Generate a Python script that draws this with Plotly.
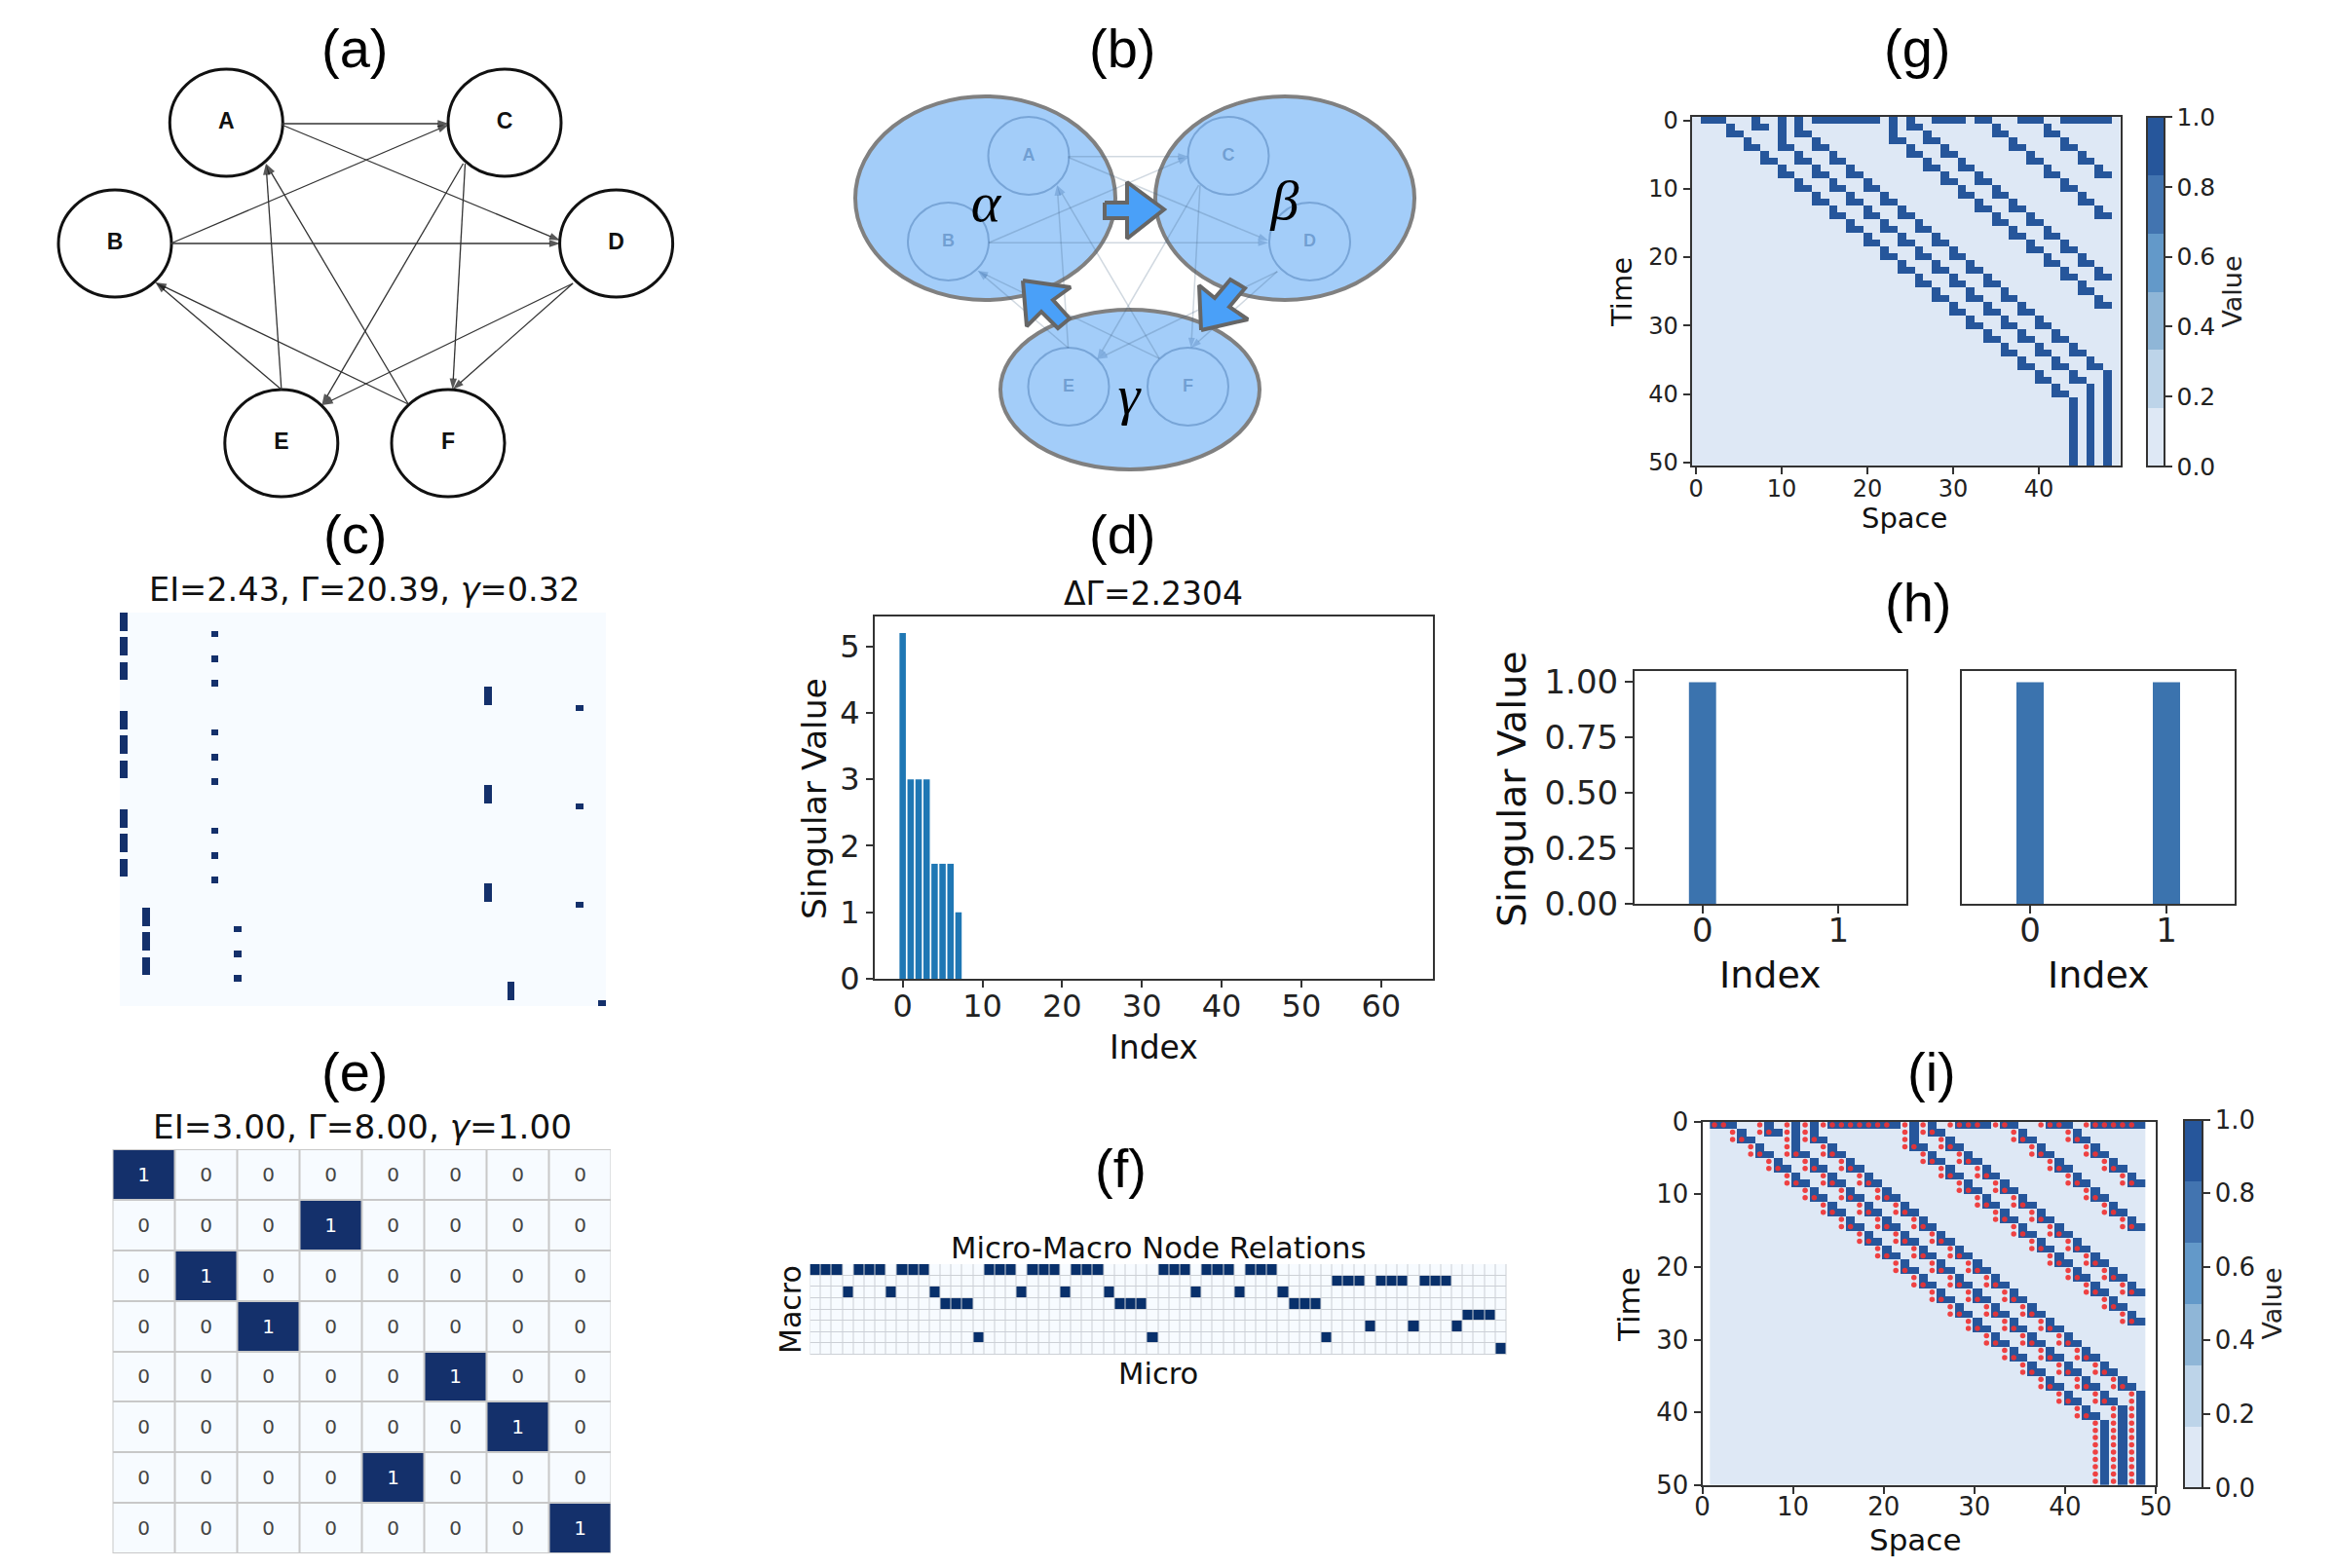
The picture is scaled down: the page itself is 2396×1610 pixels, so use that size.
import plotly.graph_objects as go

W, H = 2396, 1610

# ---------- panel a / b : graph ----------
node_names = ["A", "C", "B", "D", "E", "F"]
node_x = [232.3, 518, 118, 632.6, 288.8, 460]
node_y = [126, 126, 250, 250, 455, 455]
edge_x0 = [288.9, 288.9, 175.3, 175.3, 475.5, 477.5, 588.1, 588.1, 288.9, 288.9, 419.2, 419.2]
edge_y0 = [127, 128, 250, 250, 168, 168, 291, 291, 400, 400, 415, 415]
edge_x1 = [460.7, 575.3, 460.7, 575.3, 330.4, 464.7, 330.4, 464.7, 273, 159.5, 273, 159.5]
edge_y1 = [127, 247, 128, 250, 416, 400, 416, 400, 168, 290, 168, 290]

b_node_x = [1056, 1261, 973.5, 1344.5, 1097, 1219.5]
b_node_y = [160, 160, 248, 248, 397, 397]
group_names = ["<i>α</i>", "<i>β</i>", "<i>γ</i>"]
group_x = [1012, 1319, 1159]
group_y = [212, 210, 410]
group_x0 = [878, 1186, 1027]
group_x1 = [1145, 1452, 1293]
group_y0 = [99, 99, 318]
group_y1 = [308, 308, 482]
flow_arrow_x = [
    [1134, 1157, 1157, 1195, 1157, 1157, 1134, 1134],
    [1233, 1231, 1247, 1263, 1278, 1262, 1281, 1233],
    [1050, 1099, 1081, 1098, 1086, 1069, 1054, 1050],
]
flow_arrow_y = [
    [208, 208, 187, 215, 245, 224, 224, 208],
    [339, 293, 306, 287, 296, 315, 328, 339],
    [288, 295, 308, 327, 337, 320, 335, 288],
]

# ---------- panel c ----------
c_active_col = [0, 0, 0, 12, 0, 0, 0, 12, 0, 0, 0, 12, 48, 48, 48, 60,
                0, 0, 0, 12, 0, 0, 0, 12, 0, 0, 0, 12, 48, 48, 48, 60,
                0, 0, 0, 12, 0, 0, 0, 12, 0, 0, 0, 12, 48, 48, 48, 60,
                3, 3, 3, 15, 3, 3, 3, 15, 3, 3, 3, 15, 51, 51, 51, 63]

# ---------- panel d ----------
d_values = [5.2, 3.0, 3.0, 3.0, 1.73, 1.73, 1.73, 1.0] + [0.0] * 56
d_index = list(range(64))

# ---------- panel e ----------
e_active_col = [0, 3, 1, 2, 5, 6, 4, 7]

# ---------- panel f ----------
f_macro_of_micro = [0, 0, 0, 2, 0, 0, 0, 2, 0, 0, 0, 2, 3, 3, 3, 6,
                    0, 0, 0, 2, 0, 0, 0, 2, 0, 0, 0, 2, 3, 3, 3, 6,
                    0, 0, 0, 2, 0, 0, 0, 2, 0, 0, 0, 2, 3, 3, 3, 6,
                    1, 1, 1, 5, 1, 1, 1, 5, 1, 1, 1, 5, 4, 4, 4, 7]

# ---------- panels g / i : space-time ----------
top_row_cols = [1, 2, 3, 7, 10, 12, 14, 15, 16, 17, 18, 19, 20, 21, 23, 25, 28, 29, 30, 31,
                33, 34, 38, 39, 40, 43, 44, 45, 46, 47, 48]
stem_cols = [10, 10, 12, 23, 23]
stem_rows = [1, 2, 1, 1, 2]
hold_cols = [44, 46, 48]
hold_first_row = [41, 39, 37]
stair_cols = [
    [7],
    [4, 6, 8, 10, 12, 14, 16, 18, 20, 22, 24, 26, 28, 30, 32, 34, 36, 38, 40, 42],
    [10, 12, 14, 16, 18, 20, 22, 24, 26, 28, 30, 32, 34, 36, 38, 40, 42, 44],
    [12, 14, 16, 18, 20, 22, 24, 26, 28, 30, 32, 34, 36, 38, 40, 42, 44, 46],
    [23, 25, 27, 29, 31, 33, 35, 37, 39, 41, 43, 45, 47],
    [25, 27, 29, 31, 33, 35, 37, 39, 41, 43, 45, 47],
    [35, 37, 39, 41, 43, 45, 47],
    [41, 43, 45, 47],
]
stair_rows = [
    [1],
    [2, 4, 6, 8, 10, 12, 14, 16, 18, 20, 22, 24, 26, 28, 30, 32, 34, 36, 38, 40],
    [4, 6, 8, 10, 12, 14, 16, 18, 20, 22, 24, 26, 28, 30, 32, 34, 36, 38],
    [2, 4, 6, 8, 10, 12, 14, 16, 18, 20, 22, 24, 26, 28, 30, 32, 34, 36],
    [3, 5, 7, 9, 11, 13, 15, 17, 19, 21, 23, 25, 27],
    [1, 3, 5, 7, 9, 11, 13, 15, 17, 19, 21, 23],
    [2, 4, 6, 8, 10, 12, 14],
    [2, 4, 6, 8],
]
g_x_ticks = [0, 10, 20, 30, 40]
g_y_ticks = [0, 10, 20, 30, 40, 50]
i_x_ticks = [0, 10, 20, 30, 40, 50]
cbar_ticks = [0.0, 0.2, 0.4, 0.6, 0.8, 1.0]
cbar_bands = ["#dee8f5", "#bdd4e9", "#8fb6d7", "#6399c9", "#4274b0", "#26569b"]

# ---------- panel h ----------
h_index = [0, 1]
h_left = [1.0, 0.0]
h_right = [1.0, 1.0]
h_y_ticks = [0, 0.25, 0.5, 0.75, 1.0]

panel_letters = ["(a)", "(b)", "(c)", "(d)", "(e)", "(f)", "(g)", "(h)", "(i)"]
panel_letter_x = [364, 1152, 364, 1152, 364, 1150, 1968, 1969, 1983]
panel_letter_y = [49, 49, 548, 548, 1100, 1199, 49, 619, 1100]

SANS = "DejaVu Sans"
ARIAL = "Liberation Sans"
DARK = "#222222"


def xd(a, b):
    return [a / W, b / W]


def yd(a, b):
    return [1 - b / H, 1 - a / H]


fig = go.Figure()
annots = []
shapes = []


def label(text, x, y, size, family=SANS, rot=0, color="#111111"):
    annots.append(dict(text=text, x=x / W, y=1 - y / H, xref="paper", yref="paper",
                       showarrow=False, xanchor="center", yanchor="middle", textangle=rot,
                       font=dict(size=size, family=family, color=color)))


def hidden_axes(n, x0, x1, y0, y1, xr=None, yr=None):
    fig.update_layout({
        f"xaxis{n}": dict(domain=xd(x0, x1), range=xr or [x0, x1], visible=False, anchor=f"y{n}", fixedrange=True),
        f"yaxis{n}": dict(domain=yd(y0, y1), range=yr or [y1, y0], visible=False, anchor=f"x{n}", fixedrange=True),
    })


def framed_axes(n, x0, x1, y0, y1, xr, yr, xt, yt, size, ylabels=True, yfmt=None, ticklen=7, xpull=0):
    common = dict(showline=True, mirror=True, linecolor="#333333", linewidth=2, ticks="outside",
                  ticklen=ticklen, tickwidth=1.5, tickcolor="#333333", showgrid=False, zeroline=False,
                  fixedrange=True, tickfont=dict(size=size, family=SANS, color=DARK))
    fig.update_layout({
        f"xaxis{n}": dict(domain=xd(x0, x1), range=xr, tickvals=xt, anchor=f"y{n}",
                          ticklabelstandoff=xpull, **common),
        f"yaxis{n}": dict(domain=yd(y0, y1), range=yr, tickvals=yt if ylabels else [], anchor=f"x{n}",
                          tickformat=yfmt, **common),
    })


def ellipse(n, x0, x1, y0, y1, fill, line, width):
    shapes.append(dict(type="circle", xref=f"x{n}", yref=f"y{n}", x0=x0, x1=x1, y0=y0, y1=y1,
                       fillcolor=fill, line=dict(color=line, width=width), layer="below"))


def edge(n, xs, ys, color, width, head, head_color):
    fig.add_trace(go.Scatter(x=xs, y=ys, xaxis=f"x{n}", yaxis=f"y{n}", mode="lines+markers",
                             line=dict(color=color, width=width),
                             marker=dict(symbol="arrow", angleref="previous", size=[0, head],
                                         color=head_color, line=dict(width=0)),
                             hoverinfo="skip"))


# ---- (a)
hidden_axes(1, 40, 720, 60, 520)
for x, y in zip(node_x, node_y):
    ellipse(1, x - 58, x + 58, y - 55, y + 55, "white", "#111111", 3)
for x0, y0, x1, y1 in zip(edge_x0, edge_y0, edge_x1, edge_y1):
    edge(1, [x0, x1], [y0, y1], "#333333", 1.3, 12, "#111111")
fig.add_trace(go.Scatter(x=node_x, y=node_y, text=node_names, mode="text", xaxis="x1", yaxis="y1",
                         textfont=dict(size=23, family=ARIAL, color="#111111", weight="bold"),
                         hoverinfo="skip"))

# ---- (b)
hidden_axes(2, 860, 1470, 90, 490)
for x0, x1, y0, y1 in zip(group_x0, group_x1, group_y0, group_y1):
    ellipse(2, x0, x1, y0, y1, "#a3cdf9", "#808080", 4)
for x, y in zip(b_node_x, b_node_y):
    ellipse(2, x - 41.5, x + 41.5, y - 40, y + 40, "rgba(0,0,0,0)", "rgba(50,100,160,0.38)", 2)
for x0, y0, x1, y1 in zip(edge_x0, edge_y0, edge_x1, edge_y1):
    bx = [1056 + (v - 232.3) * 0.7175 for v in (x0, x1)]
    by = [160 + (v - 126) * 0.72 for v in (y0, y1)]
    edge(2, bx, by, "rgba(60,90,125,0.24)", 1.5, 11, "rgba(60,110,170,0.45)")
fig.add_trace(go.Scatter(x=b_node_x, y=b_node_y, text=node_names, mode="text", xaxis="x2", yaxis="y2",
                         textfont=dict(size=18, family=ARIAL, color="rgba(50,100,160,0.45)", weight="bold"),
                         hoverinfo="skip"))
for xs, ys in zip(flow_arrow_x, flow_arrow_y):
    fig.add_trace(go.Scatter(x=xs, y=ys, xaxis="x2", yaxis="y2", mode="lines", fill="toself",
                             fillcolor="#4aa0f8", line=dict(color="#666666", width=4),
                             hoverinfo="skip"))
fig.add_trace(go.Scatter(x=group_x, y=group_y, text=group_names, mode="text", xaxis="x2", yaxis="y2",
                         textfont=dict(size=58, family="Liberation Serif", color="#000000"),
                         hoverinfo="skip"))

# ---- (c)
hidden_axes(3, 123, 622, 629, 1033, xr=[-0.5, 63.5], yr=[63.5, -0.5])
c_z = [[1 if j == col else 0 for j in range(64)] for col in c_active_col]
fig.add_trace(go.Heatmap(z=c_z, xaxis="x3", yaxis="y3", zmin=0, zmax=1, showscale=False,
                         colorscale=[[0, "#f7fbff"], [1, "#14306b"]], hoverinfo="skip"))

# ---- (d)
framed_axes(4, 898, 1471, 633, 1005, [-3.5, 66.5], [0, 5.45],
            [0, 10, 20, 30, 40, 50, 60], [0, 1, 2, 3, 4, 5], 32, xpull=-8)
fig.add_trace(go.Bar(x=d_index, y=d_values, width=0.8, xaxis="x4", yaxis="y4",
                     marker=dict(color="#1f77b4", line=dict(width=0)), hoverinfo="skip"))

# ---- (e)
hidden_axes(5, 115.5, 627, 1180, 1595, xr=[-0.5, 7.5], yr=[7.5, -0.5])
e_z = [[1 if j == col else 0 for j in range(8)] for col in e_active_col]
shapes.append(dict(type="rect", xref="x5 domain", yref="y5 domain", x0=0, x1=1, y0=0, y1=1,
                   fillcolor="#c8c8c8", line=dict(width=0), layer="below"))
fig.add_trace(go.Heatmap(z=e_z, xaxis="x5", yaxis="y5", zmin=0, zmax=1, showscale=False, xgap=2, ygap=2,
                         colorscale=[[0, "#f7fbff"], [1, "#14306b"]], texttemplate="%{z}",
                         textfont=dict(size=20, family=SANS), hoverinfo="skip"))

# ---- (f)
hidden_axes(6, 831.5, 1546.5, 1298, 1391, xr=[-0.5, 63.5], yr=[7.5, -0.5])
f_z = [[1 if m == r else 0 for m in f_macro_of_micro] for r in range(8)]
shapes.append(dict(type="rect", xref="x6 domain", yref="y6 domain", x0=0, x1=1, y0=0, y1=1,
                   fillcolor="#ccd0d6", line=dict(width=0), layer="below"))
fig.add_trace(go.Heatmap(z=f_z, xaxis="x6", yaxis="y6", zmin=0, zmax=1, showscale=False, xgap=1, ygap=1,
                         colorscale=[[0, "#f7fbff"], [1, "#08306b"]], hoverinfo="skip"))

# ---- (g) and (i)
active = set((c, 0) for c in top_row_cols)
active |= set(zip(stem_cols, stem_rows))
for cols, rows in zip(stair_cols, stair_rows):
    for c, f in zip(cols, rows):
        active |= {(c, f - 1), (c, f), (c + 1, f)}
for c, first in zip(hold_cols, hold_first_row):
    active |= {(c, r) for r in range(first, 51)}

stops = []
for k, col in enumerate(cbar_bands):
    stops += [[k / 6, col], [(k + 1) / 6, col]]


def cbar(x0, y0, y1, thick, size):
    return dict(x=x0 / W, xanchor="left", xpad=0, y=1 - y0 / H, yanchor="top", ypad=0,
                len=y1 - y0, lenmode="pixels", thickness=thick, thicknessmode="pixels",
                tickvals=cbar_ticks, tickformat=".1f", ticks="outside", ticklen=7, tickwidth=1.5,
                tickcolor="#333333", outlinecolor="#333333", outlinewidth=2,
                tickfont=dict(size=size, family=SANS, color=DARK),
                title=dict(text="Value", side="right", font=dict(size=27, family=SANS, color=DARK)))


framed_axes(7, 1736.7, 2176.7, 120, 478.3, [-0.5, 49.5], [50.5, -0.5], g_x_ticks, g_y_ticks, 24, xpull=-6)
g_z = [[1 if (c, r) in active else 0 for c in range(50)] for r in range(51)]
fig.add_trace(go.Heatmap(z=g_z, x=list(range(50)), y=list(range(51)), xaxis="x7", yaxis="y7",
                         zmin=0, zmax=1, colorscale=stops, colorbar=cbar(2204.3, 120, 479, 18, 25),
                         hoverinfo="skip"))

framed_axes(10, 1747.5, 2213, 1151.7, 1525, [0, 50], [50, 0], i_x_ticks, g_y_ticks, 26, xpull=-9)
i_cols = list(range(1, 49))
i_rows = list(range(50))
i_z = [[1 if (c, r) in active else 0 for c in i_cols] for r in i_rows]
fig.add_trace(go.Heatmap(z=i_z, x=[c + 0.34 for c in i_cols], y=[r + 0.5 for r in i_rows],
                         xaxis="x10", yaxis="y10", zmin=0, zmax=1, colorscale=stops,
                         colorbar=cbar(2242.3, 1149.5, 1527, 19, 26), hoverinfo="skip"))
dots = sorted(p for p in active if p[0] >= 2 and p[1] < 50)
fig.add_trace(go.Scatter(x=[c - 0.66 for c, r in dots], y=[r + 0.45 for c, r in dots],
                         xaxis="x10", yaxis="y10", mode="markers",
                         marker=dict(size=5.5, color="rgba(240,50,50,0.92)", line=dict(width=0)),
                         hoverinfo="skip"))

# ---- (h)
framed_axes(8, 1678, 1957, 689, 928.3, [-0.5, 1.5], [0, 1.05], h_index, h_y_ticks, 34, yfmt=".2f", ticklen=8, xpull=-12)
framed_axes(9, 2014, 2294, 689, 928.3, [-0.5, 1.5], [0, 1.05], h_index, h_y_ticks, 34, ylabels=False, ticklen=8, xpull=-12)
fig.add_trace(go.Bar(x=h_index, y=h_left, width=0.2, xaxis="x8", yaxis="y8",
                     marker=dict(color="#3b73ae", line=dict(width=0)), hoverinfo="skip"))
fig.add_trace(go.Bar(x=h_index, y=h_right, width=0.2, xaxis="x9", yaxis="y9",
                     marker=dict(color="#3b73ae", line=dict(width=0)), hoverinfo="skip"))

# ---- texts
for t, x, y in zip(panel_letters, panel_letter_x, panel_letter_y):
    label(t, x, y, 56, family=ARIAL, color="#000000")
label("EI=2.43, Γ=20.39, <i>γ</i>=0.32", 374, 605, 33.6)
label("EI=3.00, Γ=8.00, <i>γ</i>=1.00", 372, 1157, 34.3)
label("ΔΓ=2.2304", 1184, 609, 33)
label("Index", 1184, 1075, 33)
label("Singular Value", 836, 820, 34.5, rot=-90)
label("Micro-Macro Node Relations", 1189, 1281, 30.6)
label("Micro", 1189, 1410, 30.6)
label("Macro", 811, 1345, 30, rot=-90)
label("Time", 1665, 300, 29, rot=-90)
label("Space", 1955, 532, 29)
label("Singular Value", 1552, 810, 39.5, rot=-90)
label("Index", 1817, 1001, 38)
label("Index", 2154, 1001, 38)
label("Time", 1672, 1340, 31, rot=-90)
label("Space", 1966, 1581, 31)

fig.update_layout(width=W, height=H, margin=dict(l=0, r=0, t=0, b=0, pad=0, autoexpand=False),
                  paper_bgcolor="white", plot_bgcolor="white", showlegend=False,
                  hovermode=False, annotations=annots, shapes=shapes)

fig.write_html("out.html", config={"displayModeBar": False},
               post_script="document.body.style.margin='0';document.documentElement.style.overflow='hidden';")
